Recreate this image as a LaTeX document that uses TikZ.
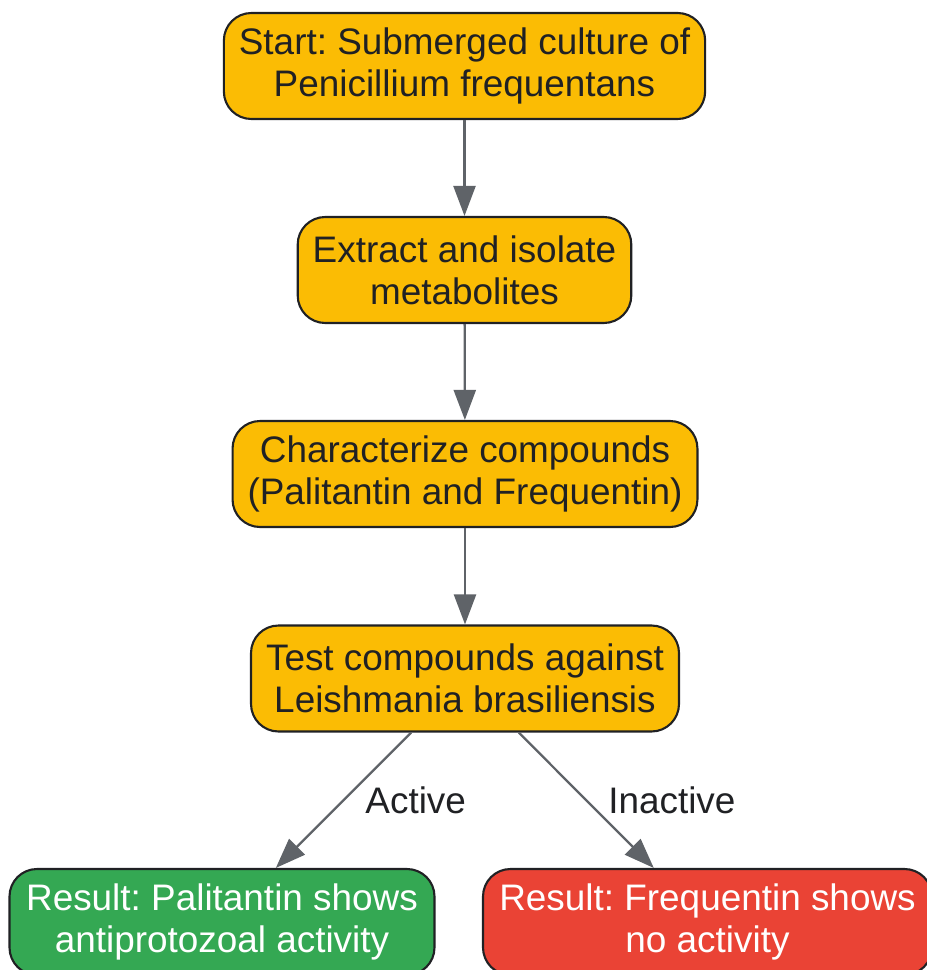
\documentclass[tikz,border=0pt]{standalone}
\usepackage{fontspec}
\setmainfont{Liberation Sans}
\usetikzlibrary{arrows.meta}

\definecolor{stepyellow}{HTML}{FBBC04}
\definecolor{resgreen}{HTML}{34A853}
\definecolor{resred}{HTML}{EA4335}
\definecolor{edgegray}{HTML}{5F6368}
\definecolor{inkdark}{HTML}{202124}

\frenchspacing

\begin{document}
\begin{tikzpicture}[
        font=\fontsize{21}{24}\selectfont,
        box/.style={draw=inkdark,line width=1.2pt,rounded corners=0.55cm,align=center,
          minimum height=2.12cm,inner xsep=0.3cm,text=inkdark},
        stepbox/.style={box,fill=stepyellow},
        goodbox/.style={box,fill=resgreen,text=white},
        badbox/.style={box,fill=resred,text=white},
        flow/.style={draw=edgegray,line width=1.3pt,-{Triangle[length=0.6cm,width=0.44cm]}}
      ]
        \useasboundingbox (0,0) rectangle (18.54,-19.4);

        % Steps
        \node[stepbox] (culture) at (9.29,-1.32) {Start: Submerged culture of\\Penicillium frequentans};
        \node[stepbox] (extract) at (9.29,-5.40) {Extract and isolate\\metabolites};
        \node[stepbox] (charact) at (9.30,-9.48) {Characterize compounds\\(Palitantin and Frequentin)};
        \node[stepbox] (assay) at (9.30,-13.57) {Test compounds against\\Leishmania brasiliensis};

        % Results
        \node[goodbox,minimum width=8.5cm] (active) at (4.44,-18.44) {Result: Palitantin shows\\antiprotozoal activity};
        \node[badbox,minimum width=8.98cm] (inactive) at (14.15,-18.44) {Result: Frequentin shows\\no activity};

        % Flow
        \draw[flow] (culture) -- (extract);
        \draw[flow] (extract) -- (charact);
        \draw[flow] (charact) -- (assay);
        \draw[flow] (assay) -- node[midway,right=0.3cm,text=inkdark] {Active} (active);
        \draw[flow] (assay) -- node[midway,right=0.3cm,text=inkdark] {Inactive} (inactive);
      \end{tikzpicture}
\end{document}
